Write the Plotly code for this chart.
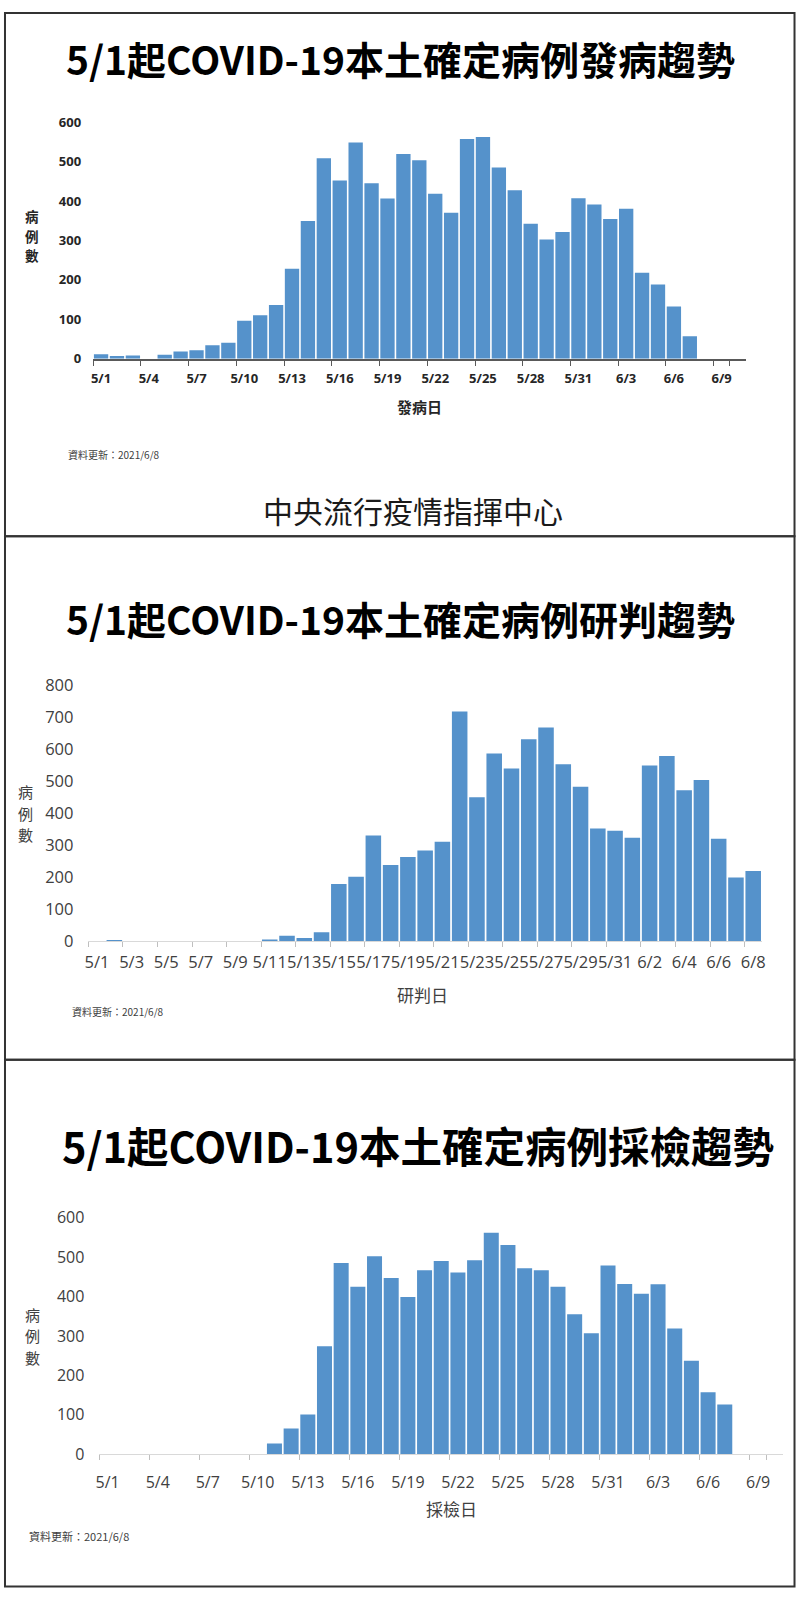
import plotly.graph_objects as go

W, H = 800, 1599
FONT = "Noto Sans CJK TC"
NUM_FONT = "Open Sans"
BAR_COLOR = "#5592cb"

# 發病日 5/1 - 6/10
onset_dates = ["5/1", "5/2", "5/3", "5/4", "5/5", "5/6", "5/7", "5/8", "5/9", "5/10",
               "5/11", "5/12", "5/13", "5/14", "5/15", "5/16", "5/17", "5/18", "5/19", "5/20",
               "5/21", "5/22", "5/23", "5/24", "5/25", "5/26", "5/27", "5/28", "5/29", "5/30",
               "5/31", "6/1", "6/2", "6/3", "6/4", "6/5", "6/6", "6/7", "6/8", "6/9", "6/10"]
onset_cases = [11, 7, 8, 0, 10, 18, 21, 34, 40, 96,
               110, 136, 228, 349, 508, 452, 548, 445, 406, 519,
               503, 418, 370, 557, 562, 485, 427, 342, 302, 321,
               407, 391, 354, 380, 218, 188, 132, 57, 0, 0, 0]
onset_ticks = ["5/1", "5/4", "5/7", "5/10", "5/13", "5/16", "5/19", "5/22", "5/25",
               "5/28", "5/31", "6/3", "6/6", "6/9"]

# 研判日 5/1 - 6/8
confirm_dates = ["5/1", "5/2", "5/3", "5/4", "5/5", "5/6", "5/7", "5/8", "5/9", "5/10",
                 "5/11", "5/12", "5/13", "5/14", "5/15", "5/16", "5/17", "5/18", "5/19", "5/20",
                 "5/21", "5/22", "5/23", "5/24", "5/25", "5/26", "5/27", "5/28", "5/29", "5/30",
                 "5/31", "6/1", "6/2", "6/3", "6/4", "6/5", "6/6", "6/7", "6/8"]
confirm_cases = [0, 2, 0, 0, 0, 0, 0, 0, 0, 0,
                 5, 17, 10, 28, 178, 201, 330, 238, 263, 283,
                 310, 717, 449, 586, 539, 630, 667, 552, 482, 352,
                 345, 323, 548, 578, 471, 503, 320, 199, 219]
confirm_ticks = ["5/1", "5/3", "5/5", "5/7", "5/9", "5/11", "5/13", "5/15", "5/17", "5/19",
                 "5/21", "5/23", "5/25", "5/27", "5/29", "5/31", "6/2", "6/4", "6/6", "6/8"]

# 採檢日 5/1 - 6/10
sample_dates = onset_dates
sample_cases = [0, 0, 0, 0, 0, 0, 0, 0, 0, 0,
                27, 65, 101, 274, 485, 425, 502, 447, 399, 467,
                490, 461, 492, 562, 531, 472, 467, 425, 355, 307,
                479, 432, 407, 431, 319, 237, 157, 126, 0, 0, 0]
sample_ticks = onset_ticks

y_title_chars = ["病", "例", "數"]


def px(x):
    return x / W


def py(y):
    return 1 - y / H


fig = go.Figure()
panels = [
    # (dates, cases, ticks, x0, x1, y_zero, y_top, ymax, x font size, y label gap, x label gap)
    (onset_dates, onset_cases, onset_ticks, 90, 749, 351.7, 111.7, 600, 13, 11, 7),
    (confirm_dates, confirm_cases, confirm_ticks, 85.3, 765.5, 942.7, 682.7, 800, 16.5, 14, 6),
    (sample_dates, sample_cases, sample_ticks, 96.3, 787, 1463.3, 1223.3, 600, 16, 14, 13),
]

layout_axes = {}
for i, (dates, cases, ticks, x0, x1, y0, y1, ymax, fs, ygap, xgap) in enumerate(panels):
    n = "" if i == 0 else str(i + 1)
    fig.add_trace(go.Bar(x=dates, y=cases, xaxis="x" + n, yaxis="y" + n,
                         marker=dict(color=BAR_COLOR, line=dict(width=0)),
                         showlegend=False, hoverinfo="x+y"))
    first = i == 0
    lab_color = "#262626" if first else "#404040"
    lab_font = dict(family=NUM_FONT, size=fs, color=lab_color,
                    weight="bold" if first else "normal")
    layout_axes["xaxis" + n] = dict(
        domain=[px(x0), px(x1)], anchor="y" + n, type="category",
        categoryorder="array", categoryarray=dates,
        range=[-0.5, len(dates) - 0.5],
        tickmode="array", tickvals=ticks, ticktext=ticks, tickangle=0,
        tickson="boundaries", ticks="outside", ticklen=6 if first else 5,
        tickcolor="#595959" if first else "#bfbfbf",
        showline=True, linecolor="#595959" if first else "#d9d9d9",
        linewidth=1.5 if first else 1.2, ticklabelstandoff=xgap,
        showgrid=False, zeroline=False, tickfont=lab_font, fixedrange=True,
    )
    layout_axes["yaxis" + n] = dict(
        domain=[py(y0), py(y1)], anchor="x" + n, range=[0, ymax], dtick=100,
        showgrid=False, zeroline=False, showline=False, ticks="",
        tickfont=lab_font, ticklabelstandoff=ygap, fixedrange=True,
    )

fig.update_layout(**layout_axes)

titles = [
    ("5/1起COVID-19本土確定病例發病趨勢", 400, 47, 39),
    ("5/1起COVID-19本土確定病例研判趨勢", 400, 615, 39),
    ("5/1起COVID-19本土確定病例採檢趨勢", 418, 1150, 41.5),
]
annotations = []
for text, x, y, size in titles:
    annotations.append(dict(text=text, x=px(x), y=py(y), xref="paper", yref="paper",
                            xanchor="center", yanchor="middle", showarrow=False,
                            font=dict(family=FONT, size=size, color="#000000", weight="bold")))

# y titles: characters stacked one above the other
for x, y_mid, bold, size in [(28, 227, True, 13.5), (22, 813, False, 15), (29, 1343, False, 15)]:
    pitch = size * 1.45
    for k, ch in enumerate(y_title_chars):
        annotations.append(dict(text=ch, x=px(x), y=py(y_mid + (k - 1) * pitch),
                                xref="paper", yref="paper",
                                xanchor="center", yanchor="middle", showarrow=False,
                                font=dict(family=FONT, size=size,
                                          color="#262626" if bold else "#404040",
                                          weight="bold" if bold else "normal")))

# x titles
for text, x, y, bold, size in [("發病日", 420, 400, True, 15), ("研判日", 423, 997, False, 17),
                               ("採檢日", 452, 1518, False, 17)]:
    annotations.append(dict(text=text, x=px(x), y=py(y), xref="paper", yref="paper",
                            xanchor="center", yanchor="middle", showarrow=False,
                            font=dict(family=FONT, size=size, color="#262626" if bold else "#404040",
                                      weight="bold" if bold else "normal")))

# data date notes
for x, y, size in [(63, 449, 10), (67, 1014, 10), (23, 1546, 11)]:
    annotations.append(dict(text="資料更新：2021/6/8", x=px(x), y=py(y), xref="paper", yref="paper",
                            xanchor="left", yanchor="middle", showarrow=False,
                            font=dict(family=FONT, size=size, color="#404040")))

annotations.append(dict(text="中央流行疫情指揮中心", x=px(413), y=py(505), xref="paper", yref="paper",
                        xanchor="center", yanchor="middle", showarrow=False,
                        font=dict(family=FONT, size=30, color="#1a1a1a", weight="normal")))

shapes = []
for top, bottom in [(1, 532), (532, 1063), (1063, 1597.5)]:
    shapes.append(dict(type="rect", xref="paper", yref="paper",
                       x0=px(1), x1=px(798.5), y0=py(bottom), y1=py(top),
                       line=dict(color="#333333", width=2)))

fig.update_layout(
    width=W, height=H, margin=dict(l=0, r=0, t=0, b=0),
    paper_bgcolor="white", plot_bgcolor="white",
    bargap=0.1, annotations=annotations, shapes=shapes,
    font=dict(family=FONT),
)

# no page margin / scrollbars, so the figure fills the window exactly
page_css = ("document.documentElement.style.margin='0';"
            "document.documentElement.style.overflow='hidden';"
            "document.body.style.margin='0';"
            "document.body.style.padding='0';"
            "document.body.style.overflow='hidden';")
fig.write_html("out.html", config={"displayModeBar": False}, post_script=page_css)
